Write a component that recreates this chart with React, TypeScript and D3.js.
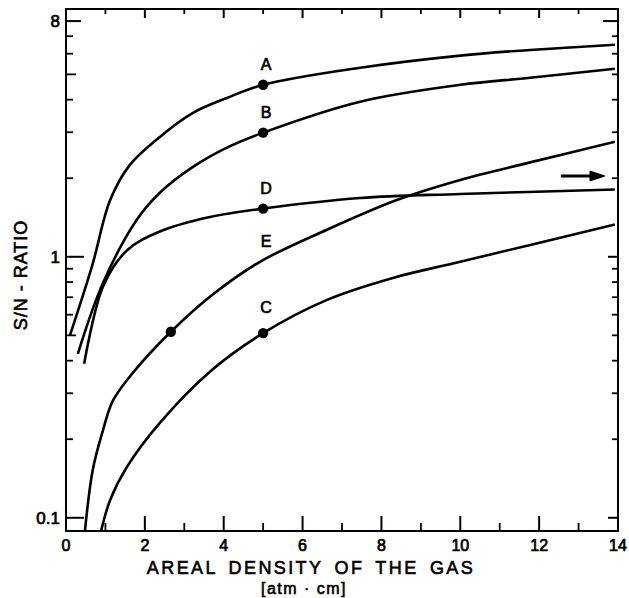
import * as d3 from 'd3';

// values (x: atm·cm, y: S/N ratio)
const curveA: [number, number][] = [
  [0.1, 0.5], [0.66, 0.92], [1.12, 1.65], [1.62, 2.25], [2.38, 2.88],
  [3.22, 3.56], [4.08, 4.06], [5, 4.56], [7.46, 5.3], [10, 5.9], [11.77, 6.2], [13.92, 6.49],
];
const curveB: [number, number][] = [
  [0.3, 0.425], [0.94, 0.795], [1.8, 1.39], [2.38, 1.76], [3.22, 2.21], [4.08, 2.62],
  [5, 2.99], [7.46, 3.93], [10, 4.56], [11.77, 4.85], [13.92, 5.25],
];
const curveD: [number, number][] = [
  [0.46, 0.389], [0.94, 0.77], [1.55, 1.06], [2.38, 1.25], [3.65, 1.42], [5, 1.53],
  [7.46, 1.68], [10, 1.74], [13.92, 1.81],
];
const curveE: [number, number][] = [
  [0.48, 0.089], [0.68, 0.153], [0.94, 0.217], [1.19, 0.281], [1.7, 0.36], [2.66, 0.516],
  [3.65, 0.703], [4.92, 0.957], [6.62, 1.27], [8.39, 1.65], [10, 1.97], [11.77, 2.3], [13.92, 2.76],
];
const curveC: [number, number][] = [
  [0.89, 0.089], [1.12, 0.117], [1.55, 0.157], [2.38, 0.231], [3.65, 0.363], [5, 0.51],
  [6.62, 0.684], [8.29, 0.83], [10, 0.957], [13.92, 1.33],
];

const curves = [curveA, curveB, curveD, curveE, curveC];

const dots: [number, number][] = [[5, 4.56], [5, 2.99], [5, 1.53], [2.66, 0.516], [5, 0.51]];

const curveLabels = [
  { name: 'A', x: 5, v: 4.56 },
  { name: 'B', x: 5, v: 2.99 },
  { name: 'D', x: 5, v: 1.53 },
  { name: 'E', x: 5, v: 0.957 },
  { name: 'C', x: 5, v: 0.51 },
];

const arrow = { x0: 12.55, x1: 13.65, v: 2.04 };

const xTicks = [0, 2, 4, 6, 8, 10, 12, 14];
const xMinor = [1, 3, 5, 7, 9, 11, 13];
const yTickLabels = [
  { v: 8, label: '8' },
  { v: 1, label: '1' },
  { v: 0.1, label: '0.1' },
];
const yMinor = [0.2, 0.3, 0.4, 0.5, 0.6, 0.7, 0.8, 0.9, 2, 3, 4, 5, 6, 7];

const font = '"Liberation Sans", Arial, sans-serif';

export default function App() {
  const W = 629;
  const H = 598;
  const left = 66, right = 618, top = 9, bottom = 531;

  const x = d3.scaleLinear().domain([0, 14]).range([left, right]);
  const y = d3.scaleLog().domain([0.089, 8.9]).range([bottom, top]);

  const line = d3
    .line<[number, number]>()
    .x(d => x(d[0]))
    .y(d => y(d[1]))
    .curve(d3.curveCatmullRom.alpha(0.5));

  const tickLen = (v: number) => (v === 5 || v === 0.5 ? 10 : 7);

  return (
    <svg
      width={W}
      height={H}
      style={{ position: 'absolute', left: 0, top: 0, background: '#fff' }}
      fontFamily={font}
    >
      <defs>
        <clipPath id="plot">
          <rect x={left} y={top} width={right - left} height={bottom - top} />
        </clipPath>
      </defs>
      <rect width={W} height={H} fill="#fff" />

      {/* frame */}
      <rect x={left} y={top} width={right - left} height={bottom - top} fill="none" stroke="#000" strokeWidth={2} />

      {/* y ticks, left and right */}
      {yTickLabels.map(t => (
        <g key={'yl' + t.v}>
          <line x1={left} x2={left + (t.v === 8 ? 15 : 18)} y1={y(t.v)} y2={y(t.v)} stroke="#000" strokeWidth={2} />
          <line x1={right} x2={right - (t.v === 8 ? 15 : 10)} y1={y(t.v)} y2={y(t.v)} stroke="#000" strokeWidth={2} />
        </g>
      ))}
      {yMinor.map(v => (
        <g key={'ym' + v}>
          <line x1={left} x2={left + tickLen(v)} y1={y(v)} y2={y(v)} stroke="#000" strokeWidth={1.8} />
          <line x1={right} x2={right - 6} y1={y(v)} y2={y(v)} stroke="#000" strokeWidth={1.8} />
        </g>
      ))}

      {/* x ticks, bottom and top */}
      {xTicks.map(t => (
        <g key={'xt' + t}>
          <line x1={x(t)} x2={x(t)} y1={bottom} y2={bottom - 15} stroke="#000" strokeWidth={2} />
          <line x1={x(t)} x2={x(t)} y1={top} y2={top + 9} stroke="#000" strokeWidth={2} />
        </g>
      ))}
      {xMinor.map(t => (
        <g key={'xm' + t}>
          <line x1={x(t)} x2={x(t)} y1={bottom} y2={bottom - 8} stroke="#000" strokeWidth={1.8} />
          <line x1={x(t)} x2={x(t)} y1={top} y2={top + 5} stroke="#000" strokeWidth={1.8} />
        </g>
      ))}

      {/* tick labels */}
      {xTicks.map(t => (
        <text key={'xl' + t} x={x(t)} y={551} textAnchor="middle" fontSize={16} stroke="#000" strokeWidth={0.7}>
          {t}
        </text>
      ))}
      {yTickLabels.map(t => (
        <text key={'ylab' + t.v} x={60} y={y(t.v) + 6} textAnchor="end" fontSize={17} stroke="#000" strokeWidth={0.7}>
          {t.label}
        </text>
      ))}

      {/* curves */}
      <g clipPath="url(#plot)">
        {curves.map((c, i) => (
          <path key={i} d={line(c) ?? ''} fill="none" stroke="#000" strokeWidth={2.6} />
        ))}
      </g>
      {dots.map((d, i) => (
        <circle key={i} cx={x(d[0])} cy={y(d[1])} r={5.2} fill="#000" />
      ))}
      {curveLabels.map(l => (
        <text
          key={l.name}
          x={x(l.x) + 3}
          y={y(l.v) - (l.name === 'C' ? 20 : 15)}
          textAnchor="middle"
          fontSize={16}
          stroke="#000"
          strokeWidth={0.7}
        >
          {l.name}
        </text>
      ))}

      {/* arrow */}
      <line x1={x(arrow.x0)} x2={x(arrow.x1) - 8} y1={y(arrow.v)} y2={y(arrow.v)} stroke="#000" strokeWidth={3} />
      <path
        d={`M${x(arrow.x1) - 14},${y(arrow.v) - 4.5} L${x(arrow.x1)},${y(arrow.v)} L${x(arrow.x1) - 14},${y(arrow.v) + 4.5} Z`}
        fill="#000"
        stroke="#000"
        strokeWidth={1.5}
        strokeLinejoin="round"
      />

      {/* axis titles */}
      <text
        x={311}
        y={574}
        textAnchor="middle"
        fontSize={18}
        letterSpacing={2.4}
        wordSpacing={4}
        stroke="#000"
        strokeWidth={0.6}
      >
        AREAL DENSITY OF THE GAS
      </text>
      <text x={304} y={594} textAnchor="middle" fontSize={16} letterSpacing={1.5} stroke="#000" strokeWidth={0.6}>
        [atm · cm]
      </text>
      <text
        transform="translate(27,275) rotate(-90)"
        textAnchor="middle"
        fontSize={18}
        letterSpacing={1}
        stroke="#000"
        strokeWidth={0.6}
      >
        S/N - RATIO
      </text>
    </svg>
  );
}
